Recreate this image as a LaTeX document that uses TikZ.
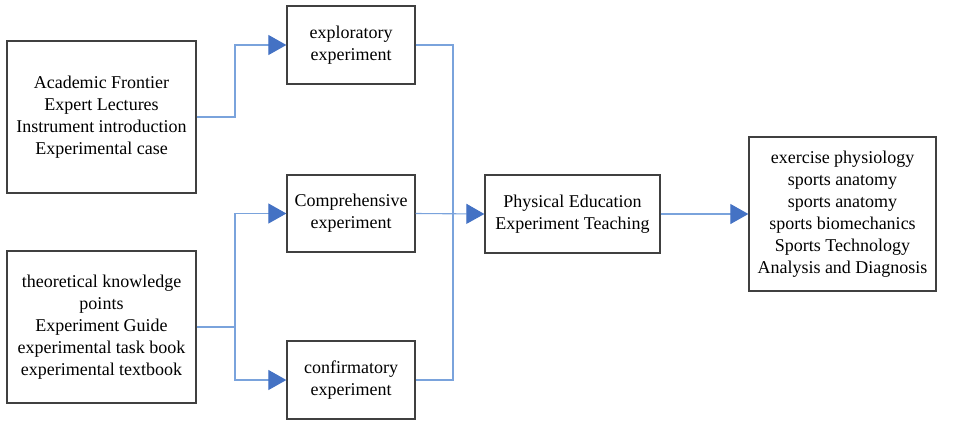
\documentclass[tikz,border=0pt]{standalone}
\usepackage{fontspec}
\setmainfont{Liberation Serif}
\newfontfamily\boxfont{Liberation Serif}
\usetikzlibrary{arrows.meta}
\definecolor{lineblue}{HTML}{7AA3DC}
\definecolor{tipblue}{HTML}{4472C4}
\definecolor{boxgray}{HTML}{404040}
\tikzset{
  box/.style={draw=boxgray, line width=1.3pt, align=center, font=\boxfont\fontsize{18}{22}\selectfont, inner sep=0pt},
  conn/.style={draw=lineblue, line width=1.1pt},
  arr/.style={conn, -{Triangle[length=18pt,width=20pt,fill=tipblue,color=tipblue]}},
}
\begin{document}
\begin{tikzpicture}[x=1pt,y=-1pt]
\useasboundingbox (0,0) rectangle (957,426);
\node[box, minimum width=189pt, minimum height=152pt] (acad) at (101.5,117) {Academic Frontier\\Expert Lectures\\Instrument introduction\\Experimental case};
\node[box, minimum width=189pt, minimum height=152pt] (theo) at (101.5,327) {theoretical knowledge\\points\\Experiment Guide\\experimental task book\\experimental textbook};
\node[box, minimum width=128pt, minimum height=78pt] (expl) at (351,45) {exploratory\\experiment};
\node[box, minimum width=128pt, minimum height=77pt] (comp) at (351,213.5) {Comprehensive\\experiment};
\node[box, minimum width=128pt, minimum height=78pt] (conf) at (351,380) {confirmatory\\experiment};
\node[box, minimum width=175pt, minimum height=78pt] (pe) at (572.5,214) {Physical Education\\Experiment Teaching};
\node[box, minimum width=187pt, minimum height=154pt] (out) at (842.5,214) {exercise physiology\\sports anatomy\\sports anatomy\\sports biomechanics\\Sports Technology\\Analysis and Diagnosis};
\coordinate (ja) at (235,117);
\coordinate (jt) at (235,327);
\coordinate (jr) at (453,45);
\draw[arr] (acad.east) -- (ja) |- (expl.west);
\draw[conn] (theo.east) -- (jt);
\draw[arr] (jt) |- (comp.west);
\draw[arr] (jt) |- (conf.west);
\draw[conn] (expl.east) -- (jr) |- (conf.east);
\draw[arr] (comp.east) -- (pe.west);
\draw[arr] (pe.east) -- (out.west);
\end{tikzpicture}
\end{document}
